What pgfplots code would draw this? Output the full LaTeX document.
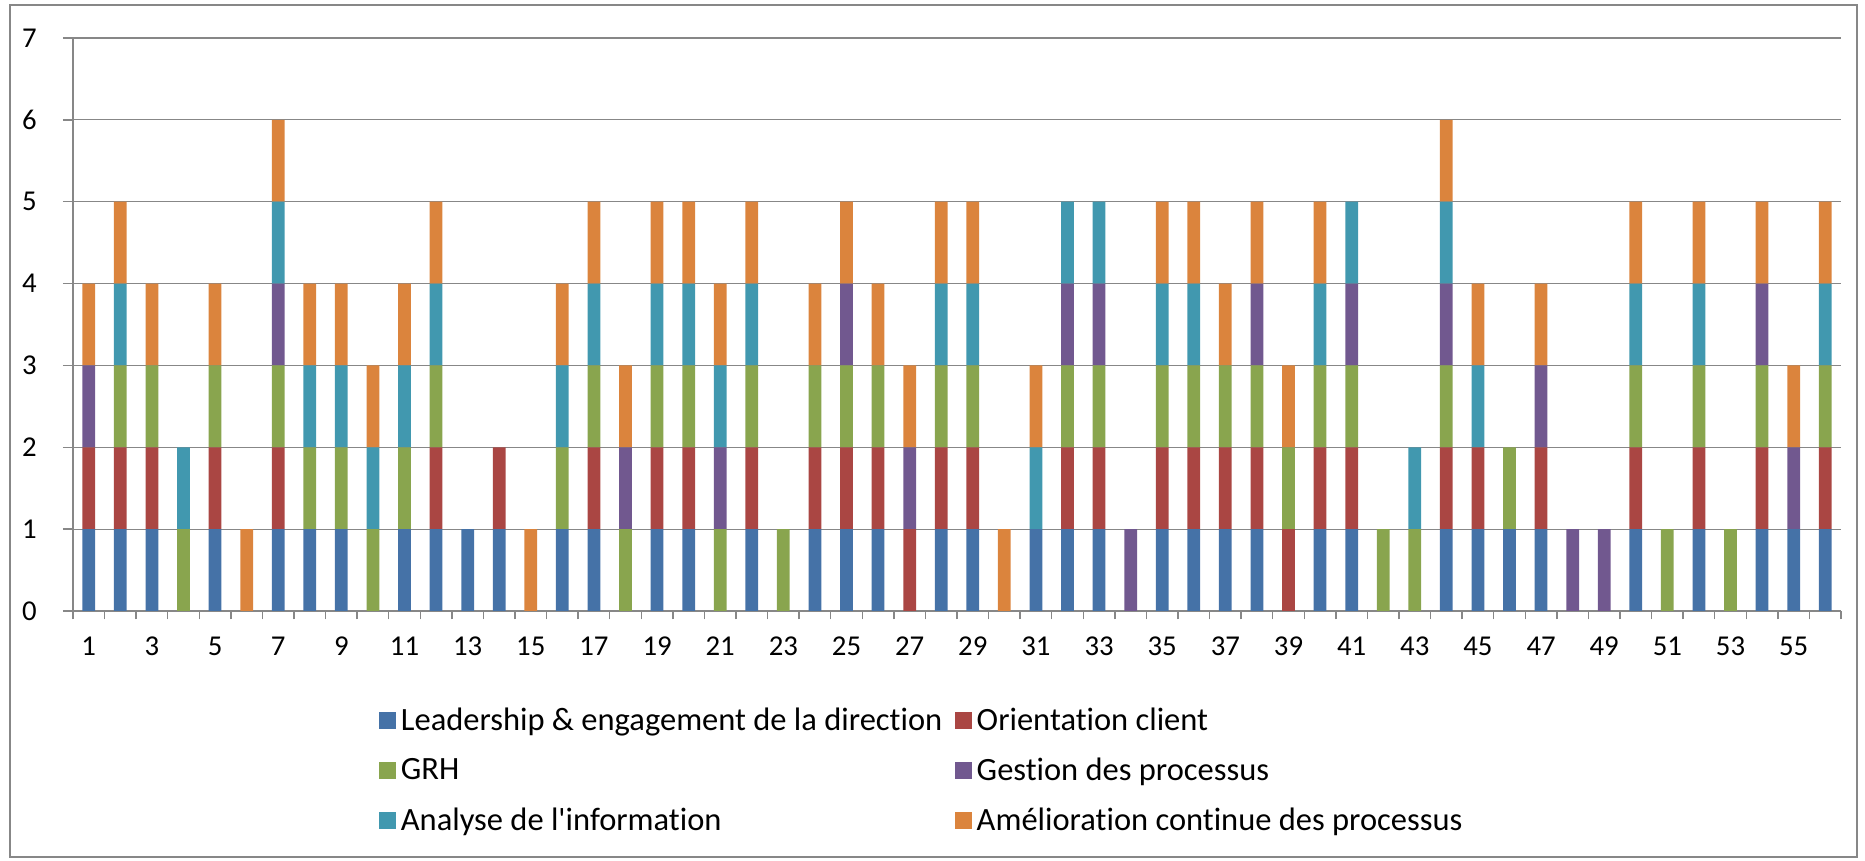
\documentclass[border=0pt]{standalone}
\usepackage{pgfplots}
\pgfplotsset{compat=1.18}
\usepackage{pgfplotstable}
\usepackage{fontspec}
\setmainfont{Carlito}[Ligatures={NoCommon}]

\definecolor{cLead}{HTML}{4572A7}
\definecolor{cOrient}{HTML}{AA4643}
\definecolor{cGRH}{HTML}{89A54E}
\definecolor{cGest}{HTML}{71588F}
\definecolor{cAnal}{HTML}{4198AF}
\definecolor{cAmel}{HTML}{DB843D}
\definecolor{gridc}{HTML}{878787}

% x L O G P A M  (0/1 per axis of evaluation)
\pgfplotstableread{
x L O G P A M
1 1 1 0 1 0 1
2 1 1 1 0 1 1
3 1 1 1 0 0 1
4 0 0 1 0 1 0
5 1 1 1 0 0 1
6 0 0 0 0 0 1
7 1 1 1 1 1 1
8 1 0 1 0 1 1
9 1 0 1 0 1 1
10 0 0 1 0 1 1
11 1 0 1 0 1 1
12 1 1 1 0 1 1
13 1 0 0 0 0 0
14 1 1 0 0 0 0
15 0 0 0 0 0 1
16 1 0 1 0 1 1
17 1 1 1 0 1 1
18 0 0 1 1 0 1
19 1 1 1 0 1 1
20 1 1 1 0 1 1
21 0 0 1 1 1 1
22 1 1 1 0 1 1
23 0 0 1 0 0 0
24 1 1 1 0 0 1
25 1 1 1 1 0 1
26 1 1 1 0 0 1
27 0 1 0 1 0 1
28 1 1 1 0 1 1
29 1 1 1 0 1 1
30 0 0 0 0 0 1
31 1 0 0 0 1 1
32 1 1 1 1 1 0
33 1 1 1 1 1 0
34 0 0 0 1 0 0
35 1 1 1 0 1 1
36 1 1 1 0 1 1
37 1 1 1 0 0 1
38 1 1 1 1 0 1
39 0 1 1 0 0 1
40 1 1 1 0 1 1
41 1 1 1 1 1 0
42 0 0 1 0 0 0
43 0 0 1 0 1 0
44 1 1 1 1 1 1
45 1 1 0 0 1 1
46 1 0 1 0 0 0
47 1 1 0 1 0 1
48 0 0 0 1 0 0
49 0 0 0 1 0 0
50 1 1 1 0 1 1
51 0 0 1 0 0 0
52 1 1 1 0 1 1
53 0 0 1 0 0 0
54 1 1 1 1 0 1
55 1 0 0 1 0 1
56 1 1 1 0 1 1
}\data

\begin{document}
\begin{tikzpicture}
% page = 1865 x 861 px at 0.4pt per px
\useasboundingbox (0,0) rectangle (746pt,344.4pt);
\draw[gridc,line width=0.5pt] (4pt,1.6pt) rectangle (742.8pt,342.4pt);
\begin{axis}[
  at={(29.2pt,100pt)}, anchor=origin,
  scale only axis, width=707.2pt, height=229.2pt,
  ybar stacked, bar width=5.1pt,
  xmin=0.5, xmax=56.5, ymin=0, ymax=7,
  axis x line*=bottom, axis y line*=left,
  axis line style={gridc, line width=0.6pt},
  ytick={0,1,...,7},
  xtick={1,3,...,55},
  minor xtick={0.5,1.5,...,56.5},
  major x tick style={draw=none},
  minor tick length=3.4pt, major tick length=4pt,
  tick align=outside,
  tick style={gridc, line width=0.6pt},
  ymajorgrids, grid style={gridc, line width=0.5pt},
  /pgf/number format/assume math mode=true,
  tick label style={font=\fontsize{11.5}{13}\selectfont},
  xticklabel style={yshift=-3pt},
  yticklabel style={xshift=-7pt},
  legend columns=2,
  legend cell align=left,
  legend style={draw=none, fill=none, at={(0.1685,-0.150)}, anchor=north west,
    font=\fontsize{13}{15}\selectfont, row sep=5.5pt,
    /tikz/every even column/.append style={column sep=3pt}},
  legend image code/.code={\fill[#1,draw=none] (0pt,-3.4pt) rectangle (6.8pt,3.4pt);},
  every axis plot/.append style={draw=none},
]
\addplot[fill=cLead]   table[x=x,y=L] {\data};
\addplot[fill=cOrient] table[x=x,y=O] {\data};
\addplot[fill=cGRH]    table[x=x,y=G] {\data};
\addplot[fill=cGest]   table[x=x,y=P] {\data};
\addplot[fill=cAnal]   table[x=x,y=A] {\data};
\addplot[fill=cAmel]   table[x=x,y=M] {\data};
\legend{Leadership \& engagement de la direction, Orientation client, GRH, Gestion des processus, Analyse de l\textquotesingle information, Amélioration continue des processus}
\end{axis}
\end{tikzpicture}
\end{document}
